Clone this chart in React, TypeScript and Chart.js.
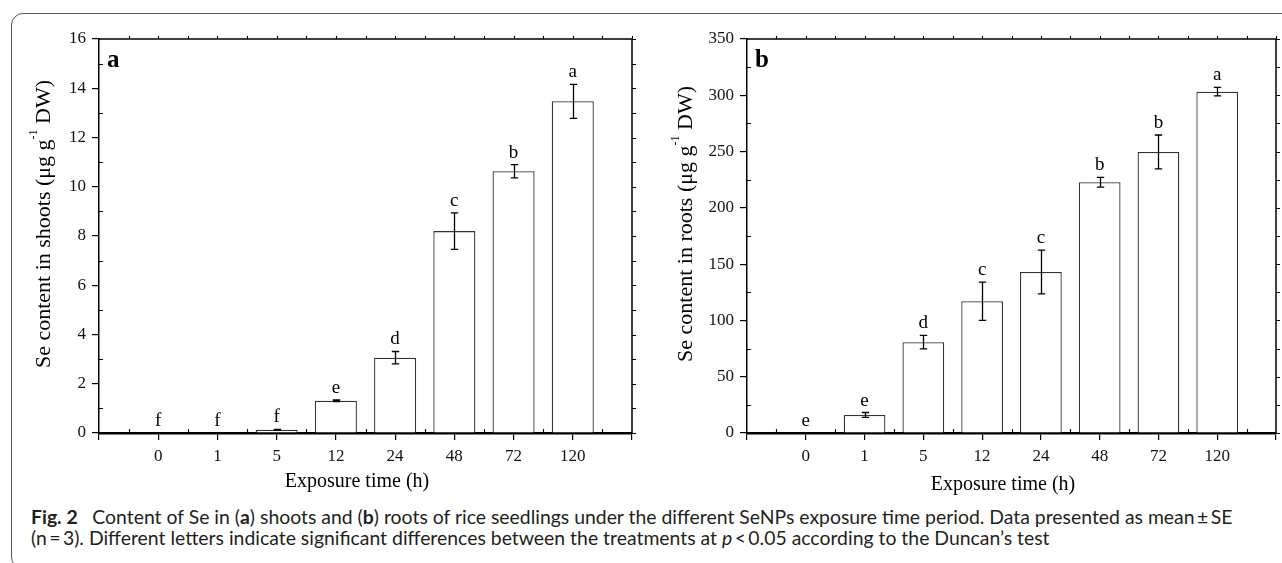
import React, { useEffect, useRef } from 'react';
import { Chart, registerables } from 'chart.js';

Chart.register(...registerables);

// ---------------- data ----------------
const categories = ['0', '1', '5', '12', '24', '48', '72', '120'];

const shootValues = [0, 0, 0.13, 1.31, 3.06, 8.2, 10.63, 13.47];
const shootErrors = [0, 0, 0.02, 0.03, 0.25, 0.74, 0.27, 0.69];
const shootLetters = ['f', 'f', 'f', 'e', 'd', 'c', 'b', 'a'];

const rootValues = [0, 16, 80.7, 117, 143, 222.7, 249.7, 303.2];
const rootErrors = [0, 2.2, 6, 17, 19.5, 4.3, 15, 3.8];
const rootLetters = ['e', 'e', 'd', 'c', 'c', 'b', 'b', 'a'];

const shootAxis = [0, 16, 2];
const rootAxis = [0, 350, 50];

const xTitle = 'Exposure time (h)';
const shootYTitle = ['Se content in shoots (\u03bcg g', '-1', ' DW)'];
const rootYTitle = ['Se content in roots (\u03bcg g', '-1', ' DW)'];

// ---------------- styling ----------------
const SERIF = '"Liberation Serif", "Times New Roman", Times, serif';

type Panel = {
  values: number[];
  errors: number[];
  letters: string[];
  axis: number[];
  label: string;
  yTitle: string[];
  yAxisWidth: number;
  padRight: number;
  yTitleOffset: number;
  xTitleOffset: number;
};

function decorPlugin(p: Panel) {
  return {
    id: 'decor',
    afterDraw(chart: any) {
      const { ctx, chartArea: a, scales } = chart;
      const xs = scales.x;
      const ys = scales.y;
      const [ymin, ymax, ystep] = p.axis;
      ctx.save();
      ctx.strokeStyle = '#000';
      ctx.fillStyle = '#000';

      // top and right frame lines
      ctx.lineWidth = 1.5;
      ctx.beginPath();
      ctx.moveTo(a.left, a.top);
      ctx.lineTo(a.right, a.top);
      ctx.lineTo(a.right, a.bottom);
      ctx.stroke();

      // y minor ticks + right ticks
      ctx.lineWidth = 1.1;
      ctx.beginPath();
      const half = ystep / 2;
      for (let v = ymin; v <= ymax + 1e-9; v += half) {
        const py = Math.round(ys.getPixelForValue(v)) + 0.5;
        const k = v / ystep;
        const major = Math.abs(k - Math.round(k)) < 1e-6;
        if (!major) {
          ctx.moveTo(a.left, py);
          ctx.lineTo(a.left + 4, py);
        }
        ctx.moveTo(a.right, py);
        ctx.lineTo(a.right + 4, py);
      }
      // x half ticks (bottom inward, top outward)
      const n = chart.data.labels.length;
      for (let i = 0; i < n - 1; i++) {
        const p0 = xs.getPixelForValue(i);
        const p1 = xs.getPixelForValue(i + 1);
        const mid = Math.round((p0 + p1) / 2) + 0.5;
        ctx.moveTo(mid, a.bottom);
        ctx.lineTo(mid, a.bottom - 4);
        ctx.moveTo(mid, a.top);
        ctx.lineTo(mid, a.top - 3);
        const pm = Math.round(p1) + 0.5;
        ctx.moveTo(pm, a.top);
        ctx.lineTo(pm, a.top - 3);
      }
      ctx.stroke();

      // error bars
      ctx.lineWidth = 1.3;
      ctx.beginPath();
      p.values.forEach((v, i) => {
        const e = p.errors[i];
        if (!e) return;
        const px = Math.round(xs.getPixelForValue(i + 1)) + 0.5;
        const hi = ys.getPixelForValue(v + e);
        const lo = ys.getPixelForValue(v - e);
        ctx.moveTo(px, hi);
        ctx.lineTo(px, lo);
        ctx.moveTo(px - 3.7, hi);
        ctx.lineTo(px + 3.7, hi);
        ctx.moveTo(px - 3.7, lo);
        ctx.lineTo(px + 3.7, lo);
      });
      ctx.stroke();

      // significance letters
      ctx.font = `19px ${SERIF}`;
      ctx.textAlign = 'center';
      ctx.textBaseline = 'alphabetic';
      p.values.forEach((v, i) => {
        const px = xs.getPixelForValue(i + 1);
        const py = ys.getPixelForValue(v + p.errors[i]) - 7;
        ctx.fillText(p.letters[i], px, py);
      });

      // panel label
      ctx.font = `bold 25px ${SERIF}`;
      ctx.textAlign = 'left';
      ctx.fillText(p.label, a.left + 8, a.top + 27.5);

      // x title
      ctx.font = `20px ${SERIF}`;
      ctx.textAlign = 'center';
      ctx.fillText(xTitle, (a.left + a.right) / 2 - 8.5, a.bottom + p.xTitleOffset);

      // y title with superscript
      const [main, sup, tail] = p.yTitle;
      const bigFont = `22px ${SERIF}`;
      const supFont = `12px ${SERIF}`;
      ctx.font = bigFont;
      const wMain = ctx.measureText(main).width;
      const wTail = ctx.measureText(tail).width;
      ctx.font = supFont;
      const wSup = ctx.measureText(sup).width;
      const total = wMain + wSup + wTail;
      ctx.translate(a.left - p.yTitleOffset, (a.top + a.bottom) / 2 - 12);
      ctx.rotate(-Math.PI / 2);
      ctx.textAlign = 'left';
      let cx = -total / 2;
      ctx.font = bigFont;
      ctx.fillText(main, cx, 0);
      cx += wMain;
      ctx.font = supFont;
      ctx.fillText(sup, cx, -13);
      cx += wSup;
      ctx.font = bigFont;
      ctx.fillText(tail, cx, 0);

      ctx.restore();
    },
  };
}

function PanelChart({ panel, left, width }: { panel: Panel; left: number; width: number }) {
  const ref = useRef<HTMLCanvasElement | null>(null);
  useEffect(() => {
    if (!ref.current) return;
    const [ymin, ymax, ystep] = panel.axis;
    const labels = ['', ...categories, ''];
    const chart = new Chart(ref.current, {
      type: 'bar',
      data: {
        labels,
        datasets: [
          {
            data: [null, ...panel.values, null] as any,
            backgroundColor: '#ffffff',
            borderColor: '#333333',
            borderWidth: 1.3,
            borderSkipped: 'start',
            categoryPercentage: 0.71,
            barPercentage: 1,
          },
        ],
      },
      options: {
        animation: false,
        responsive: false,
        devicePixelRatio: 1,
        events: [],
        layout: { padding: { top: 39, right: panel.padRight, left: 0, bottom: 0 } },
        plugins: { legend: { display: false }, tooltip: { enabled: false } },
        scales: {
          x: {
            type: 'category',
            offset: false,
            z: 1,
            grid: {
              offset: false,
              drawOnChartArea: false,
              drawTicks: true,
              tickLength: 7,
              color: '#000',
              lineWidth: 1.2,
            },
            border: { display: true, color: '#000', width: 2.5 },
            ticks: {
              autoSkip: false,
              maxRotation: 0,
              padding: 6,
              color: '#111',
              font: { family: SERIF, size: 17 },
            },
            afterFit: (s: any) => {
              s.height = 67;
            },
          },
          y: {
            min: ymin,
            max: ymax,
            grid: {
              drawOnChartArea: false,
              drawTicks: true,
              tickLength: 7,
              color: '#000',
              lineWidth: 1.2,
            },
            border: { display: true, color: '#000', width: 1.5 },
            ticks: {
              stepSize: ystep,
              padding: 6,
              color: '#111',
              font: { family: SERIF, size: 17 },
            },
            afterFit: (s: any) => {
              s.width = panel.yAxisWidth;
            },
          },
        },
      },
      plugins: [decorPlugin(panel)],
    });
    return () => chart.destroy();
  }, [panel]);
  return (
    <canvas
      ref={ref}
      width={width}
      height={500}
      style={{ position: 'absolute', left, top: 0, width, height: 500 }}
    />
  );
}

const leftPanel: Panel = {
  values: shootValues,
  errors: shootErrors,
  letters: shootLetters,
  axis: shootAxis,
  label: 'a',
  yTitle: shootYTitle,
  yAxisWidth: 99,
  padRight: 8,
  yTitleOffset: 49,
  xTitleOffset: 53.5,
};

const rightPanel: Panel = {
  values: rootValues,
  errors: rootErrors,
  letters: rootLetters,
  axis: rootAxis,
  label: 'b',
  yTitle: rootYTitle,
  yAxisWidth: 107,
  padRight: 2,
  yTitleOffset: 55,
  xTitleOffset: 57,
};

export default function App() {
  const capStyle: React.CSSProperties = {
    position: 'absolute',
    left: 31,
    whiteSpace: 'nowrap',
    fontFamily: 'Lato, "Noto Sans", sans-serif',
    fontSize: 19.4,
    lineHeight: '20.5px',
    color: '#231f20',
  };
  return (
    <div
      style={{
        position: 'fixed',
        left: 0,
        top: 0,
        width: 1282,
        height: 563,
        overflow: 'hidden',
        background: '#fff',
      }}
    >
      <div
        style={{
          position: 'absolute',
          left: 11,
          top: 13,
          width: 1300,
          height: 556,
          border: '1px solid #555',
          borderRadius: 12,
          boxSizing: 'border-box',
        }}
      />
      <PanelChart panel={leftPanel} left={0} width={640} />
      <PanelChart panel={rightPanel} left={640} width={642} />
      <div style={{ ...capStyle, top: 507 }}>
        <b>Fig. 2</b>
        {'\u2002 Content of Se in ('}
        <b>a</b>
        {') shoots and ('}
        <b>b</b>
        {') roots of rice seedlings under the different SeNPs exposure time period. Data presented as mean\u2009\u00b1\u2009SE'}
      </div>
      <div style={{ ...capStyle, top: 527.5 }}>
        {'(n\u2009=\u20093). Different letters indicate significant differences between the treatments at '}
        <i>p</i>
        {'\u2009<\u20090.05 according to the Duncan\u2019s test'}
      </div>
    </div>
  );
}
